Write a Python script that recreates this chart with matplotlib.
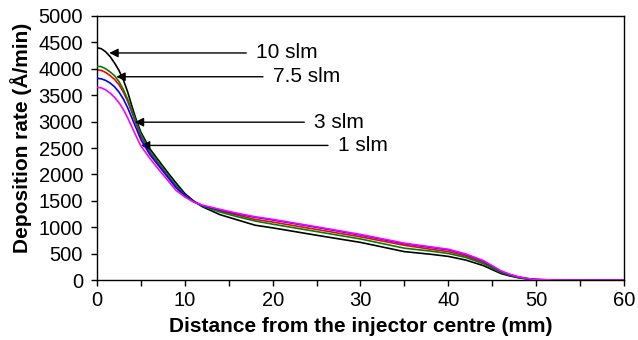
import matplotlib.pyplot as plt

plt.rcParams['font.family'] = ['Liberation Sans', 'DejaVu Sans']

# distance from injector centre (mm)
dist = [0, 0.5, 1, 1.5, 2, 2.5, 3, 3.5, 4, 4.5, 5, 6, 7, 8, 9, 10, 11, 12,
        14, 16, 18, 20, 25, 30, 35, 38, 40, 42, 44, 46, 47, 48, 49, 50, 52, 55, 60]

rate_10 = [4400, 4380, 4320, 4230, 4110, 3970, 3790, 3560, 3280, 3020, 2800,
           2490, 2270, 2050, 1840, 1640, 1500, 1390,
           1240, 1140, 1040, 990, 850, 715, 540, 490, 450, 380, 275, 125, 80,
           45, 22, 8, 2, 0, 0]
rate_75 = [4050, 4040, 4000, 3940, 3870, 3760, 3610, 3420, 3200, 2980, 2760,
           2440, 2230, 2010, 1790, 1610, 1490, 1400,
           1290, 1200, 1120, 1060, 920, 780, 605, 550, 505, 430, 310, 145, 92,
           52, 26, 10, 2, 0, 0]
rate_5 = [3980, 3970, 3930, 3870, 3800, 3700, 3560, 3380, 3160, 2940, 2720,
          2420, 2210, 1990, 1780, 1605, 1490, 1405,
          1310, 1230, 1150, 1100, 960, 820, 660, 585, 540, 455, 330, 158, 100,
          57, 28, 11, 2, 0, 0]
rate_3 = [3820, 3810, 3780, 3730, 3660, 3560, 3430, 3260, 3060, 2860, 2660,
          2380, 2170, 1960, 1750, 1595, 1485, 1410,
          1330, 1255, 1190, 1140, 1000, 855, 690, 620, 575, 485, 360, 170, 106,
          60, 30, 12, 3, 0, 0]
rate_1 = [3650, 3640, 3600, 3540, 3460, 3360, 3230, 3070, 2890, 2710, 2540,
          2310, 2100, 1900, 1700, 1575, 1480, 1420,
          1340, 1265, 1200, 1150, 1010, 865, 700, 630, 585, 495, 370, 175, 110,
          62, 32, 13, 3, 0, 0]

labels = ['10 slm', '7.5 slm', '3 slm', '1 slm']
tips = [(1.4, 4300), (2.2, 3850), (4.3, 2990), (5.0, 2550)]
tails = [(17.0, 4300), (18.9, 3850), (23.6, 2990), (26.3, 2550)]

fig = plt.figure(figsize=(6.38, 3.40), dpi=100)
ax = fig.add_axes([0.152, 0.176, 0.826, 0.777])

ax.plot(dist, rate_5, color='red', lw=1.2, zorder=1)
ax.plot(dist, rate_10, color='black', lw=1.2, zorder=2)
ax.plot(dist, rate_75, color='green', lw=1.2, zorder=3)
ax.plot(dist, rate_3, color='blue', lw=1.2, zorder=4)
ax.plot(dist, rate_1, color='magenta', lw=1.2, zorder=5)

for lab, tip, tail in zip(labels, tips, tails):
    ax.annotate('', xy=tip, xytext=tail,
                arrowprops=dict(arrowstyle='-|>', color='black', lw=1,
                                mutation_scale=13, shrinkA=0, shrinkB=0))
    ax.text(tail[0] + 1.1, tail[1], lab, fontsize=15, va='center', ha='left')

ax.set_xlim(0, 60)
ax.set_ylim(0, 5000)
ax.set_xticks(range(0, 61, 10))
ax.set_xticks(range(0, 61, 5), minor=True)
ax.set_yticks(range(0, 5001, 500))
ax.tick_params(which='both', direction='out', labelsize=14.5, length=4, width=1)
ax.tick_params(axis='y', pad=6)
ax.tick_params(axis='x', pad=4)
for s in ax.spines.values():
    s.set_linewidth(1)

ax.set_xlabel('Distance from the injector centre (mm)', fontsize=15, fontweight='bold')
ax.set_ylabel('Deposition rate (Å/min)', fontsize=15, fontweight='bold')
ax.xaxis.set_label_coords(0.5, -0.14)
ax.yaxis.set_label_coords(-0.123, 0.538)

fig.savefig('out.png', dpi=100)
